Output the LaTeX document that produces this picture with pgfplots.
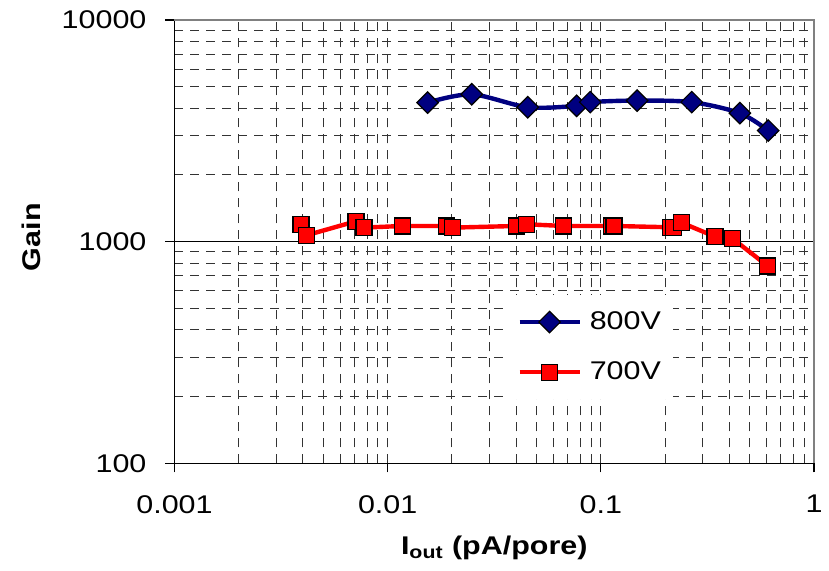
\documentclass[border=0pt]{standalone}
\usepackage{pgfplots}
\pgfplotsset{compat=1.18}
\usepackage{fontspec}
\setmainfont{Liberation Sans}[FakeStretch=1.19]
\definecolor{navyline}{RGB}{0,0,128}
\definecolor{redline}{RGB}{255,0,0}
\newcommand{\lblfont}{\fontsize{12.8}{15}\selectfont}
\begin{document}
\begin{tikzpicture}
\path[use as bounding box] (-87.25pt,-53.35pt) rectangle (327.25pt,231.65pt);
\begin{axis}[
  scale only axis,
  width=319.75pt, height=221.65pt,
  xmode=log, ymode=log,
  xmin=0.001, xmax=1, ymin=100, ymax=10000,
  axis lines=left,
  axis line style={-, black, line width=0.6pt},
  xtick={0.001,0.01,0.1,1}, xticklabels={0.001,0.01,0.1,1},
  ytick={100,1000,10000}, yticklabels={100,1000,10000},
  tick align=outside,
  major tick length=4.5pt, minor tick length=0pt,
  tick style={black, line width=0.6pt},
  xmajorgrids, xminorgrids, yminorgrids,
  major grid style={black!80, line width=0.5pt, dash pattern=on 4.5pt off 3.5pt},
  minor grid style={black!80, line width=0.5pt, dash pattern=on 4.5pt off 3.5pt},
  extra y ticks={1000}, extra y tick labels={},
  extra y tick style={grid=major, major grid style={solid, black, line width=0.6pt}},
  every tick label/.append style={font=\lblfont},
  xticklabel style={font=\lblfont, yshift=-8pt},
  yticklabel style={font=\lblfont, xshift=-6pt},
  xlabel={\textbf{I\textsubscript{out} (pA/pore)}},
  ylabel={\textbf{Gain}},
  label style={font=\lblfont},
  xlabel style={at={(axis description cs:0.5,0)}, anchor=center, yshift=-42.5pt},
  ylabel style={at={(axis description cs:-0.2236,0.51)}, anchor=center},
  legend style={at={(0.5168,0.2624)}, anchor=west, draw=none, fill=white,
    inner xsep=6pt, inner ysep=8pt, font=\lblfont, nodes={inner sep=0pt}, row sep=14.5pt, column sep=4pt},
  legend cell align=left,
  legend image code/.code={\draw[mark repeat=2,mark phase=2] plot coordinates {(0pt,0pt) (15pt,0pt) (30pt,0pt)};},
  clip=false,
]
\draw[gray, line width=0.6pt] (rel axis cs:0,1) -- (rel axis cs:1,1) -- (rel axis cs:1,0);
\addplot[navyline, line width=2.2pt, smooth, tension=0.5, mark=square*,
  mark size=3.8pt, mark options={rotate=45, solid, fill=navyline, draw=black, line width=0.6pt}]
  table {
x y
0.0154 4240
0.0248 4620
0.0454 4040
0.0770 4100
0.0892 4260
0.148 4330
0.267 4260
0.449 3800
0.610 3170
};
\addlegendentry{800V}
\addplot[redline, line width=2.2pt, mark=square*,
  mark size=4pt, mark options={solid, fill=redline, draw=black, line width=0.6pt}]
  table {
x y
0.00392 1198
0.00417 1069
0.00710 1236
0.00774 1157
0.01175 1177
0.0189 1177
0.0202 1157
0.0403 1177
0.0449 1198
0.0666 1177
0.1124 1177
0.1152 1177
0.213 1161
0.220 1155
0.239 1218
0.343 1054
0.413 1036
0.606 777
};
\addlegendentry{700V}
\end{axis}
\end{tikzpicture}
\end{document}
